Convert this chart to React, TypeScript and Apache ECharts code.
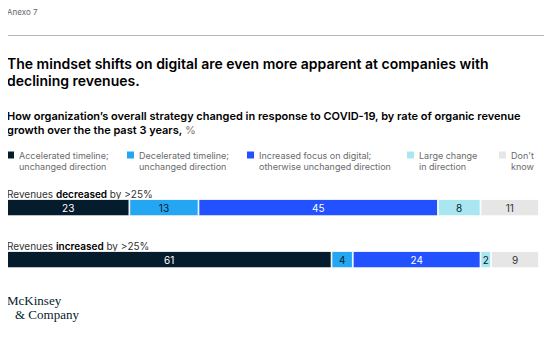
import React, { useEffect, useRef } from "react";
import * as echarts from "echarts";

const categories = ["Revenues decreased by >25%", "Revenues increased by >25%"];
const seriesNames = [
  "Accelerated timeline;\nunchanged direction",
  "Decelerated timeline;\nunchanged direction",
  "Increased focus on digital;\notherwise unchanged direction",
  "Large change\nin direction",
  "Don't\nknow",
];
const accelerated = [23, 61];
const decelerated = [13, 4];
const increasedDigital = [45, 24];
const largeChange = [8, 2];
const dontKnow = [11, 9];
const seriesValues = [accelerated, decelerated, increasedDigital, largeChange, dontKnow];

const colors = ["#051C2C", "#25A6F2", "#2251FF", "#AAE6F0", "#E6E6E6"];
const labelColors = ["#FFFFFF", "#051C2C", "#FFFFFF", "#051C2C", "#333333"];
const legendLeft = [7, 127, 247, 407, 499];

const FONT = "Inter, Roboto, 'Noto Sans', sans-serif";
const SERIF = "'Liberation Serif', 'DejaVu Serif', serif";

export default function App() {
  const ref = useRef<HTMLDivElement>(null);
  useEffect(() => {
    if (!ref.current) return;
    const chart = echarts.init(ref.current, null, { renderer: "svg" });
    const option: any = {
      animation: false,
      backgroundColor: "#FFFFFF",
      textStyle: { fontFamily: FONT },
      graphic: [
        {
          type: "text",
          left: 7,
          top: 8,
          style: { text: "Anexo 7", fontSize: 8, fill: "#666666", fontFamily: FONT },
        },
        {
          type: "line",
          shape: { x1: 7, y1: 35.5, x2: 545, y2: 35.5 },
          style: { stroke: "#B5B5B5", lineWidth: 1 },
        },
        {
          type: "text",
          left: 7,
          top: 55,
          style: {
            text: "The mindset shifts on digital are even more apparent at companies with\ndeclining revenues.",
            fontSize: 14,
            fontWeight: 600,
            lineHeight: 17,
            fill: "#000000",
            fontFamily: FONT,
          },
        },
        {
          type: "text",
          left: 7,
          top: 110,
          style: {
            text: "{b|How organization’s overall strategy changed in response to COVID-19, by rate of organic revenue}\n{b|growth over the the past 3 years, }{p|%}",
            fontFamily: FONT,
            rich: {
              b: { fontSize: 11, fontWeight: 600, fill: "#000000", lineHeight: 14, fontFamily: FONT },
              p: { fontSize: 11, fontWeight: 400, fill: "#777777", lineHeight: 14, fontFamily: FONT },
            },
          },
        },
        {
          type: "text",
          left: 7,
          top: 294,
          style: {
            text: "{a|McKinsey}\n{b|& Company}",
            fontFamily: SERIF,
            rich: {
              a: { fontSize: 13, lineHeight: 13.5, fill: "#051C2C", fontFamily: SERIF },
              b: { fontSize: 13, lineHeight: 13.5, fill: "#051C2C", fontFamily: SERIF, padding: [0, 0, 0, 8] },
            },
          },
        },
      ],
      legend: seriesNames.map((n, i) => ({
        data: [n],
        left: legendLeft[i],
        top: 138.5,
        padding: 0,
        icon: "rect",
        itemWidth: 7,
        itemHeight: 7,
        itemGap: 4,
        selectedMode: false,
        itemStyle: { borderWidth: 0 },
        formatter: (name: string) => "\n" + name,
        textStyle: {
          fontSize: 9,
          color: "#6B6B6B",
          lineHeight: 11,
          fontFamily: FONT,
        },
      })),
      grid: { left: 7, right: 13, top: 181.6, height: 104, containLabel: false },
      xAxis: { type: "value", min: 0, max: 100, show: false },
      yAxis: {
        type: "category",
        data: categories,
        inverse: true,
        axisLine: { show: false },
        axisTick: { show: false },
        splitLine: { show: false },
        axisLabel: {
          inside: true,
          margin: 0,
          verticalAlign: "bottom",
          padding: [0, 0, 9, 0],
          fontSize: 10,
          color: "#333333",
          fontFamily: FONT,
          formatter: (v: string) => {
            const m = v.match(/^(\S+)\s+(\S+)\s+(.*)$/);
            if (!m) return v;
            return `{n|${m[1]} }{b|${m[2]}}{n| ${m[3]}}`;
          },
          rich: {
            n: { fontSize: 10, color: "#333333", fontFamily: FONT },
            b: { fontSize: 10, color: "#000000", fontWeight: 600, fontFamily: FONT },
          },
        },
      },
      series: seriesNames.map((n, i) => ({
        name: n,
        type: "bar",
        stack: "total",
        barWidth: 17,
        data: seriesValues[i],
        itemStyle: { color: colors[i], borderColor: "#FFFFFF", borderWidth: 0.8 },
        label: {
          show: true,
          position: "inside",
          fontSize: 10,
          color: labelColors[i],
          fontFamily: FONT,
        },
      })),
    };
    chart.setOption(option);
    return () => chart.dispose();
  }, []);
  return <div ref={ref} style={{ width: 552, height: 337, margin: -8 }} />;
}
